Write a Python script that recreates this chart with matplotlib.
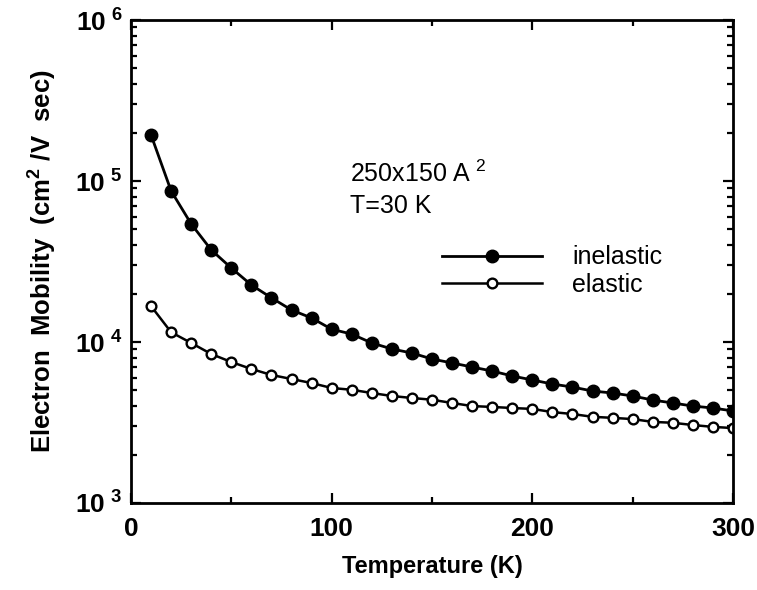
import numpy as np
import matplotlib
matplotlib.use("Agg")
import matplotlib.pyplot as plt
from matplotlib.ticker import LogLocator, FixedLocator, NullFormatter, FuncFormatter

plt.rcParams['font.family'] = ['Liberation Sans', 'DejaVu Sans']
plt.rcParams['mathtext.fontset'] = 'custom'
plt.rcParams['mathtext.rm'] = 'Liberation Sans'
plt.rcParams['mathtext.bf'] = 'Liberation Sans:bold'

# === DATA ===
temperature = [10, 20, 30, 40, 50, 60, 70, 80, 90, 100,
               110, 120, 130, 140, 150, 160, 170, 180, 190, 200,
               210, 220, 230, 240, 250, 260, 270, 280, 290, 300]
inelastic = [193000, 86700, 54100, 37300, 28800, 22600, 18800, 15800, 14100, 12000,
             11200, 9860, 9050, 8540, 7840, 7410, 6990, 6600, 6150, 5810,
             5480, 5250, 4960, 4820, 4620, 4360, 4180, 4000, 3890, 3730]
elastic = [16700, 11500, 9860, 8420, 7510, 6800, 6240, 5890, 5560, 5180,
           5050, 4820, 4620, 4490, 4380, 4180, 4000, 3950, 3890, 3840,
           3670, 3570, 3430, 3380, 3320, 3190, 3150, 3050, 2970, 2920]
x_ticks = [0, 100, 200, 300]
x_minor = [50, 150, 250]
series_labels = ["inelastic", "elastic"]

fig = plt.figure(figsize=(7.57, 5.90), dpi=100)
ax = fig.add_axes([131 / 757, 1 - 503 / 590, 602 / 757, 483 / 590])

ax.plot(temperature, inelastic, '-', color='black', lw=2.0,
        marker='o', ms=9, mfc='black', mec='black', label=series_labels[0])
ax.plot(temperature, elastic, '-', color='black', lw=1.8,
        marker='o', ms=7, mfc='white', mec='black', mew=1.7, label=series_labels[1])

ax.set_yscale('log')
ax.set_xlim(0, 300)
ax.set_ylim(1e3, 1e6)

ax.xaxis.set_major_locator(FixedLocator(x_ticks))
ax.xaxis.set_minor_locator(FixedLocator(x_minor))
ax.yaxis.set_major_locator(LogLocator(base=10))
ax.yaxis.set_minor_locator(LogLocator(base=10, subs=np.arange(2, 10)))
ax.yaxis.set_minor_formatter(NullFormatter())
ax.yaxis.set_major_formatter(FuncFormatter(
    lambda v, p: r'$\mathbf{10^{\ %d}}$' % int(round(np.log10(v)))))

ax.tick_params(which='both', direction='in', top=True, right=True, width=1.6)
ax.tick_params(which='major', length=7)
ax.tick_params(which='minor', length=4)
ax.tick_params(axis='x', which='major', labelsize=19, pad=10)
ax.tick_params(axis='y', which='major', labelsize=19, pad=6)
for lab in ax.get_xticklabels():
    lab.set_fontweight('bold')
for sp in ax.spines.values():
    sp.set_linewidth(2)

ax.set_xlabel("Temperature (K)", fontsize=17, fontweight='bold', labelpad=10)
ax.set_ylabel(r"Electron  Mobility  (cm$^{\mathbf{2}}$ /V  sec)",
              fontsize=18.5, fontweight='bold', labelpad=12)

ax.text(0.364, 0.665, r"250x150 A$^{\ 2}$", transform=ax.transAxes,
        fontsize=18, va='baseline', ha='left')
ax.text(0.364, 0.600, "T=30 K", transform=ax.transAxes,
        fontsize=18, va='baseline', ha='left')

ax.legend(loc='center left', bbox_to_anchor=(0.517, 0.48), frameon=False,
          fontsize=18, handlelength=4.0, handletextpad=1.2, numpoints=1,
          labelspacing=0.15, borderpad=0, borderaxespad=0)

fig.savefig("out.png", dpi=100)
